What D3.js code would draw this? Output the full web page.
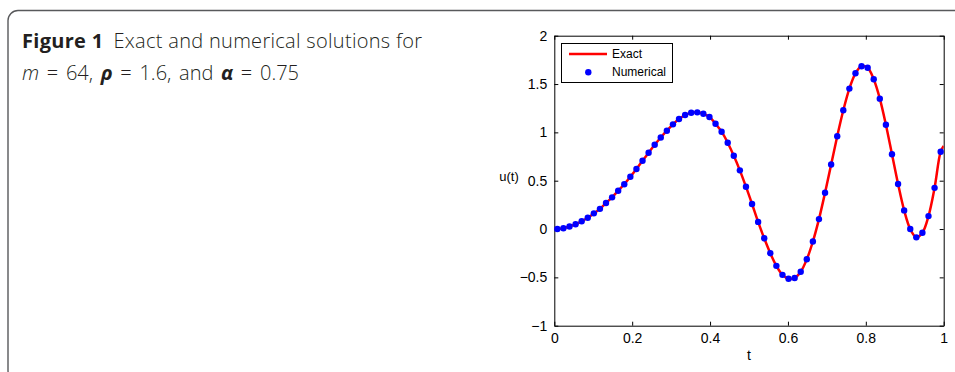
<!DOCTYPE html>
<html>
<head>
<meta charset="utf-8">
<script src="https://cdn.jsdelivr.net/npm/d3@7"></script>
<style>
  body { margin: 0; background: #fff; }
  svg { display: block; }
</style>
</head>
<body>
<div class="container"></div>
<script>
const width = 955;
const height = 372;

// m = 64 numerical points, at the midpoints of each step
const m = 64;
const numT = d3.range(m).map(i => (i + 0.5) / m);
const numU = [
  0.000, 0.008, 0.026, 0.050, 0.080, 0.117, 0.162, 0.209,
  0.269, 0.328, 0.396, 0.463, 0.541, 0.621, 0.706, 0.789,
  0.872, 0.947, 1.017, 1.083, 1.138, 1.179, 1.203, 1.207,
  1.192, 1.159, 1.089, 1.007, 0.893, 0.758, 0.607, 0.438,
  0.259, 0.074, -0.096, -0.250, -0.381, -0.474, -0.514, -0.507,
  -0.442, -0.313, -0.129, 0.103, 0.376, 0.667, 0.960, 1.229,
  1.453, 1.611, 1.684, 1.668, 1.549, 1.349, 1.079, 0.773,
  0.466, 0.193, 0.000, -0.086, -0.039, 0.134, 0.426, 0.800
];

// exact solution: same curve, plus both ends of [0, 1]
const exactT = [0, ...numT, 1];
const exactU = [0, ...numU, 0.86];

const xTicks = [0, 0.2, 0.4, 0.6, 0.8, 1];
const yTicks = [-1, -0.5, 0, 0.5, 1, 1.5, 2];
const seriesNames = ['Exact', 'Numerical'];

const plot = { left: 554.3, right: 943.7, top: 35.7, bottom: 325.7 };
const chartFont = '"Liberation Sans", Arial, sans-serif';
const capFont = '"Open Sans", "Noto Sans", sans-serif';

const svg = d3.select('.container')
  .append('svg')
  .attr('width', width)
  .attr('height', height);

// figure frame with rounded corner
svg.append('rect')
  .attr('x', 8)
  .attr('y', 10.5)
  .attr('width', 1000)
  .attr('height', 370)
  .attr('rx', 10)
  .attr('fill', 'none')
  .attr('stroke', '#58595b')
  .attr('stroke-width', 1.4);

// caption
const cap = svg.append('text')
  .style('font-family', capFont)
  .style('font-size', '20px')
  .style('font-weight', 300)
  .style('fill', '#231f20');
const line1 = cap.append('tspan').attr('x', 22).attr('y', 48).style('letter-spacing', '0.3px');
line1.append('tspan').style('font-weight', 'bold').text('Figure 1');
line1.append('tspan').attr('dx', 10).text('Exact and numerical solutions for');
const line2 = cap.append('tspan').attr('x', 22).attr('y', 80).style('word-spacing', '2.5px');
line2.append('tspan').style('font-style', 'italic').text('m');
line2.append('tspan').text(' = 64, ');
line2.append('tspan').style('font-style', 'italic').style('font-weight', 'bold').text('ρ');
line2.append('tspan').text(' = 1.6, and ');
line2.append('tspan').style('font-style', 'italic').style('font-weight', 'bold').text('α');
line2.append('tspan').text(' = 0.75');

const xScale = d3.scaleLinear().domain([0, 1]).range([plot.left, plot.right]);
const yScale = d3.scaleLinear().domain([-1, 2]).range([plot.bottom, plot.top]);

const fmt = d => d3.format('')(d);

function styleAxis(g) {
  g.selectAll('text').style('font-family', chartFont).style('font-size', '14px').style('fill', '#000');
  g.selectAll('line').style('stroke', '#000');
  g.select('.domain').style('stroke', '#000');
}

svg.append('g')
  .attr('transform', `translate(0,${plot.bottom})`)
  .call(d3.axisBottom(xScale).tickValues(xTicks).tickFormat(fmt).tickSizeInner(-4).tickSizeOuter(0).tickPadding(7))
  .call(styleAxis);

svg.append('g')
  .attr('transform', `translate(0,${plot.top})`)
  .call(d3.axisTop(xScale).tickValues(xTicks).tickFormat('').tickSizeInner(-4).tickSizeOuter(0))
  .call(styleAxis);

svg.append('g')
  .attr('transform', `translate(${plot.left},0)`)
  .call(d3.axisLeft(yScale).tickValues(yTicks).tickFormat(fmt).tickSizeInner(-4).tickSizeOuter(0).tickPadding(7))
  .call(styleAxis);

svg.append('g')
  .attr('transform', `translate(${plot.right},0)`)
  .call(d3.axisRight(yScale).tickValues(yTicks).tickFormat('').tickSizeInner(-4).tickSizeOuter(0))
  .call(styleAxis);

svg.append('clipPath').attr('id', 'clip')
  .append('rect')
  .attr('x', plot.left).attr('y', plot.top)
  .attr('width', plot.right - plot.left).attr('height', plot.bottom - plot.top);

const exactLine = d3.line()
  .x((d, i) => xScale(exactT[i]))
  .y(d => yScale(d))
  .curve(d3.curveCatmullRom);

svg.append('path')
  .datum(exactU)
  .attr('clip-path', 'url(#clip)')
  .attr('d', exactLine)
  .attr('fill', 'none')
  .attr('stroke', '#ff0000')
  .attr('stroke-width', 2.5);

svg.append('g')
  .selectAll('circle')
  .data(numU)
  .enter()
  .append('circle')
  .attr('cx', (d, i) => xScale(numT[i]))
  .attr('cy', d => yScale(d))
  .attr('r', 3.2)
  .attr('fill', '#0000ff');

// axis labels
svg.append('text')
  .attr('x', (plot.left + plot.right) / 2)
  .attr('y', 360)
  .attr('text-anchor', 'middle')
  .style('font-family', chartFont)
  .style('font-size', '14px')
  .text('t');

svg.append('text')
  .attr('x', 509)
  .attr('y', 181)
  .attr('text-anchor', 'middle')
  .style('font-family', chartFont)
  .style('font-size', '13px')
  .text('u(t)');

// legend
const legend = svg.append('g');
legend.append('rect')
  .attr('x', 561.5).attr('y', 43.5)
  .attr('width', 111).attr('height', 39)
  .attr('fill', '#fff').attr('stroke', '#000');
legend.append('line')
  .attr('x1', 569).attr('x2', 607)
  .attr('y1', 54).attr('y2', 54)
  .attr('stroke', '#ff0000').attr('stroke-width', 2.5);
legend.append('circle')
  .attr('cx', 588.3).attr('cy', 72.3).attr('r', 3.2)
  .attr('fill', '#0000ff');
legend.selectAll('text.item')
  .data(seriesNames)
  .enter()
  .append('text')
  .attr('class', 'item')
  .attr('x', 612)
  .attr('y', (d, i) => 58.3 + i * 18)
  .style('font-family', chartFont)
  .style('font-size', '12px')
  .text(d => d);
</script>
</body>
</html>
